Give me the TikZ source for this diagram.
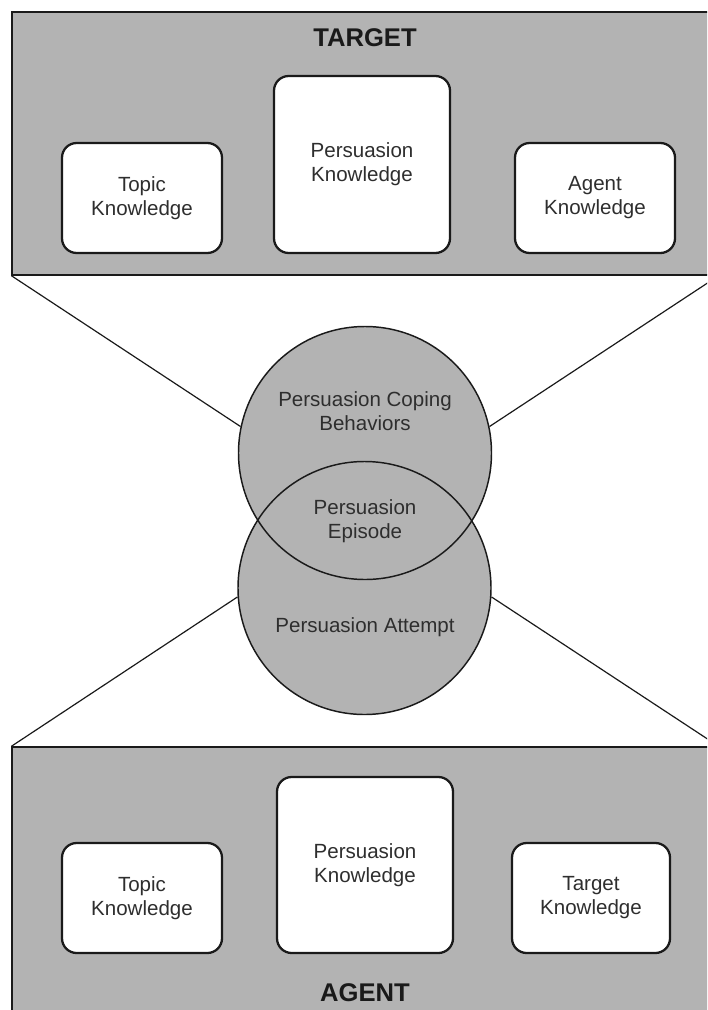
\documentclass[tikz,border=0pt]{standalone}
\usepackage{fontspec}
\setmainfont{Liberation Sans}
\definecolor{panelgray}{HTML}{B3B3B3}
\definecolor{ink}{HTML}{1A1A1A}
\definecolor{txt}{HTML}{2E2E2E}
\tikzset{
  panel/.style={draw=ink, fill=panelgray, line width=1pt, rectangle, inner sep=0pt},
  kbox/.style={draw=ink, fill=white, line width=1.7pt, rounded corners=11pt, inner sep=0pt,
    align=center, text=txt, font=\fontsize{15.4}{18}\selectfont},
  disc/.style={circle, fill=panelgray, inner sep=0pt, minimum size=189.75pt},
  ring/.style={circle, draw=ink, line width=1.1pt, inner sep=0pt, minimum size=189.75pt},
  label/.style={align=center, text=txt, font=\fontsize{15.4}{18}\selectfont, inner sep=0pt},
  title/.style={text=ink, font=\fontsize{19.2}{22}\selectfont\bfseries, inner sep=0pt},
  link/.style={draw=ink, line width=0.9pt}
}
\begin{document}
\begin{tikzpicture}[x=0.75pt, y=-0.75pt]
\useasboundingbox (0,0) rectangle (707,1010);
\clip (0,0) rectangle (707,1010);
% panels
\node[panel, minimum width=529.5pt, minimum height=197.25pt] (tp) at (365,143.5) {};
\node[panel, minimum width=529.5pt, minimum height=212.25pt] (bp) at (365,888.5) {};
\node[title] (tt) at (365,38) {TARGET};
\node[title] (at) at (365,993) {AGENT};
% top boxes
\node[kbox, minimum width=120pt, minimum height=82.5pt] (t1) at (142,198) {Topic\\Knowledge};
\node[kbox, minimum width=132pt, minimum height=132.75pt] (t2) at (362,164.5) {Persuasion\\Knowledge};
\node[kbox, minimum width=120pt, minimum height=82.5pt] (t3) at (595,198) {Agent\\Knowledge};
% bottom boxes
\node[kbox, minimum width=120pt, minimum height=82.5pt] (b1) at (142,898) {Topic\\Knowledge};
\node[kbox, minimum width=132pt, minimum height=132pt] (b2) at (365,865) {Persuasion\\Knowledge};
\node[kbox, minimum width=118.5pt, minimum height=82.5pt] (b3) at (591,898) {Target\\Knowledge};
% circles
\node[disc] (d1) at (365,453) {};
\node[disc] (d2) at (364.5,588) {};
\node[ring] (c1) at (365,453) {};
\node[ring] (c2) at (364.5,588) {};
\node[label] (l1) at (365,411) {Persuasion Coping\\Behaviors};
\node[label] (l2) at (365,521) {Persuasion\\Episode};
\node[label] (l3) at (365,627) {Persuasion Attempt};
% connectors
\draw[link] (tp.south west) -- (c1.168);
\draw[link] (tp.south east) -- (c1.12);
\draw[link] (bp.north west) -- (c2.184);
\draw[link] (bp.north east) -- (c2.-4);
\end{tikzpicture}
\end{document}
